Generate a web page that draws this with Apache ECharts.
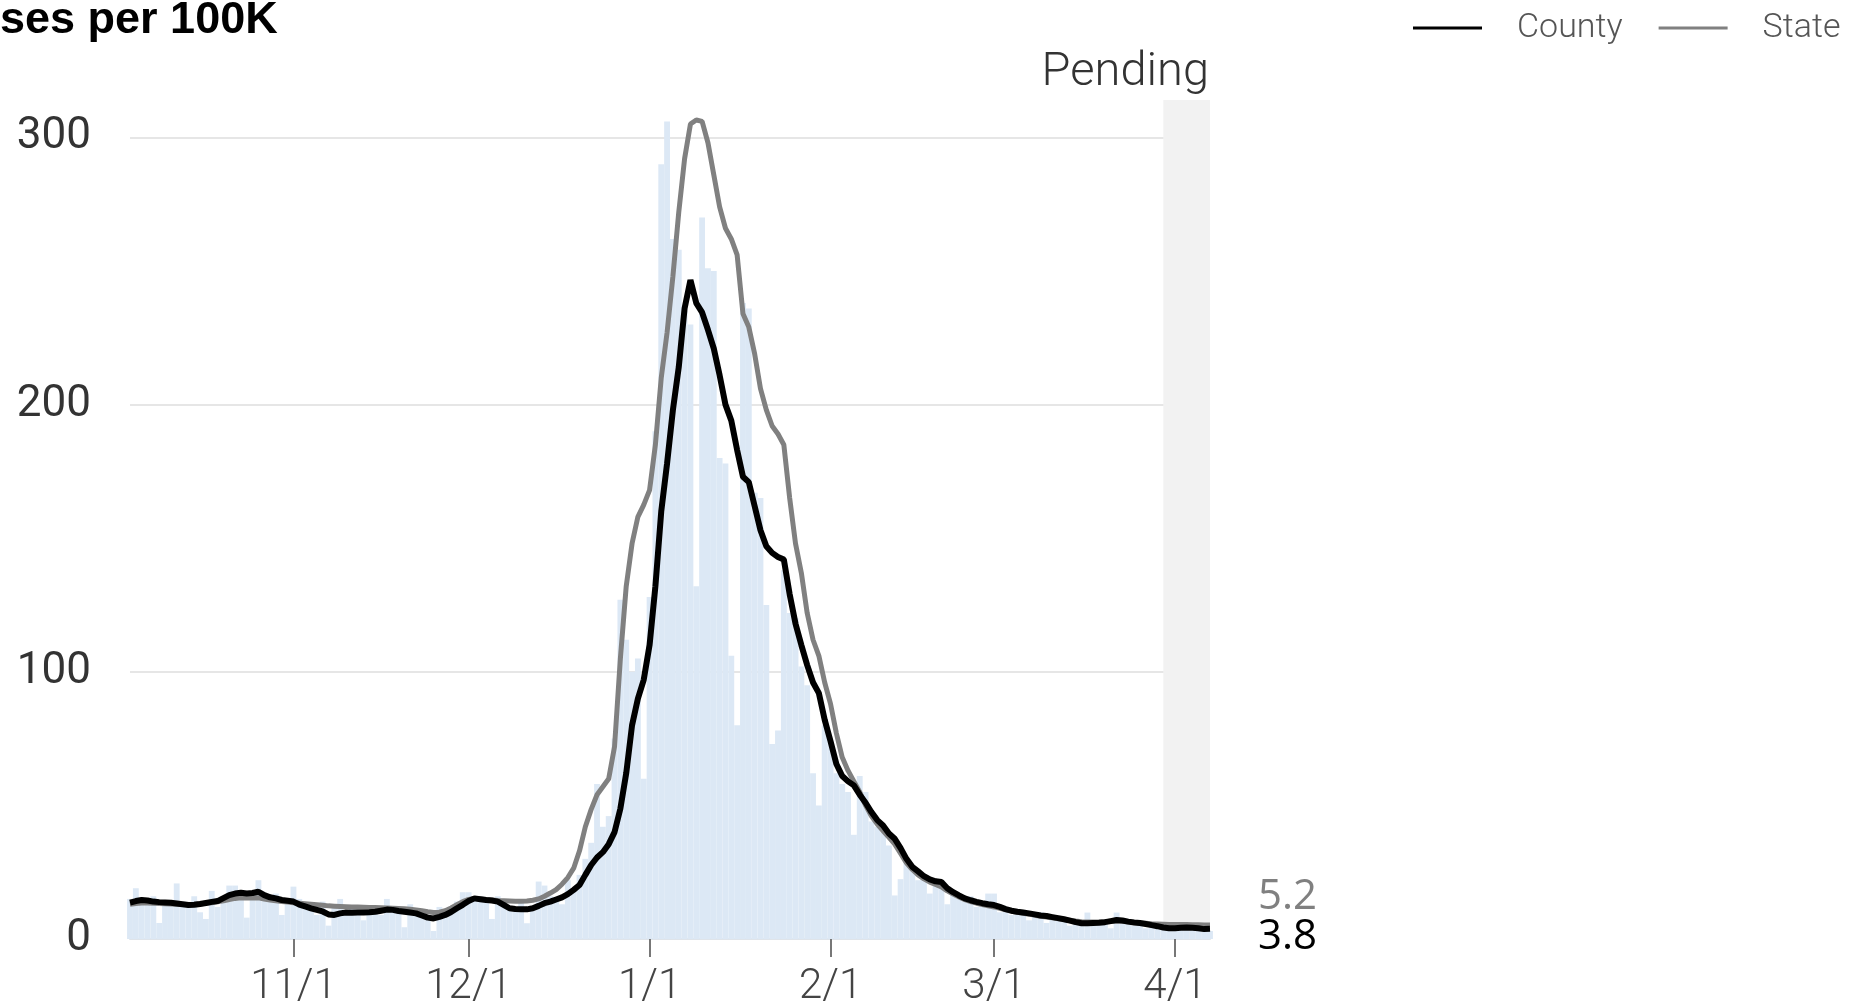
<!DOCTYPE html>
<html>
<head>
<meta charset="utf-8">
<script src="https://cdn.jsdelivr.net/npm/echarts@6/dist/echarts.min.js"></script>
<style>
  html, body { margin: 0; padding: 0; background: #ffffff; }
  #chart { width: 1870px; height: 1006px; }
</style>
</head>
<body>
<div id="chart"></div>
<script>
// ---- data ----
const startDate = '2020-10-04';
const dayCount = 186;
const xTickLabels = ['11/1', '12/1', '1/1', '2/1', '3/1', '4/1'];
const yTickValues = [0, 100, 200, 300];
const pendingRange = ['2021-03-30', '2021-04-07'];

const dailyCases = [
  15,19,14,13,16,6,13,14,20.8,14,
  12,16,10,7.5,18,12,16,20,20,17,
  8,18,22,16,14,17,9,13,19.6,15,
  12,13,9,14,5,12,15,10,12,11,
  7,10,12,9,15,12,10,4.4,13,9,
  11,8,3,12,8,10,14,17.5,17.5,15,
  16,14,7.5,16,13,11,12,14,5.9,12,
  21.5,20,16,15,13,22,18,24,30,36,
  58,42,46,75,127,112,100,105,60,128,
  190,290,306,262,258,235,230,132,270,251,
  250,180,178,106,80,238,236,167,165,125,
  73,78,138,122,120,102,95,62,50,80,
  74,62,58,55,39,61,55,44,42,40,
  35,16.3,22.4,30,27,22,24,17,20,22,
  13,18,15,14,16,12,13,17,17,10,
  12,9,11,10,7,9,10,6,9,8,
  7,5,6,7,9.9,5,6,6,4,9.9,
  7,6,5,6,4,5,5,4,3,5,
  4,4,5,3,4,3
];

const countyAvg = [
  13.6,14.2,14.6,14.4,14.0,13.8,13.7,13.6,13.3,13.0,
  12.7,12.8,13.1,13.5,13.9,14.2,15.3,16.4,17.0,17.3,
  17.0,17.2,17.7,16.4,15.6,15.2,14.6,14.3,14.0,12.9,
  12.2,11.5,10.9,10.3,9.2,9.0,9.6,9.9,9.8,9.9,
  9.9,10.0,10.2,10.6,11.0,10.9,10.5,10.2,9.9,9.6,
  8.8,8.0,7.7,8.3,9.0,10.1,11.5,12.8,14.2,15.2,
  14.9,14.6,14.4,14.0,12.8,11.5,11.2,11.1,11.1,11.5,
  12.4,13.4,14.0,14.8,15.6,16.8,18.4,20.2,24.0,27.7,
  30.5,32.5,35.5,40.0,48.8,62.0,80.0,90.0,97.0,110.0,
  132.0,160.0,178.0,198.0,214.0,236.0,246.6,238.0,234.5,228.0,
  221.0,211.0,200.0,194.0,183.0,173.0,171.0,162.0,153.0,147.0,
  144.5,143.0,142.0,129.0,118.0,110.0,102.5,96.0,92.0,82.0,
  74.0,65.5,61.0,59.0,57.5,54.0,51.0,47.5,44.5,42.5,
  39.5,37.5,34.0,30.0,27.0,25.3,23.5,22.3,21.6,21.3,
  19.0,17.5,16.3,15.2,14.5,13.9,13.4,13.0,12.7,12.0,
  11.2,10.6,10.2,9.9,9.6,9.2,8.8,8.6,8.2,7.8,
  7.4,6.9,6.3,5.9,5.9,6.0,6.1,6.3,6.7,7.1,
  6.9,6.5,6.2,6.0,5.6,5.2,4.8,4.3,4.0,4.0,
  4.2,4.3,4.2,4.0,3.7,3.8
];

const stateAvg = [
  13.0,13.3,13.5,13.5,13.4,13.3,13.2,13.1,13.0,12.9,
  12.9,13.0,13.2,13.4,13.6,13.9,14.3,14.8,15.2,15.4,
  15.3,15.3,15.4,15.0,14.6,14.3,14.0,13.8,13.6,13.4,
  13.2,13.0,12.8,12.6,12.4,12.3,12.2,12.1,12.0,12.0,
  11.9,11.8,11.8,11.7,11.6,11.5,11.4,11.3,11.1,10.9,
  10.6,10.2,9.9,10.0,10.6,11.6,12.8,14.0,14.8,15.2,
  15.0,14.8,14.6,14.4,14.3,14.2,14.1,14.1,14.2,14.5,
  15.0,16.0,17.2,18.5,20.5,23.0,26.5,33.0,42.0,48.5,
  54.0,57.0,60.0,72.0,105.0,132.0,148.0,158.0,162.5,168.0,
  185.0,210.0,227.0,248.0,272.0,292.0,305.0,306.5,306.0,298.0,
  286.0,274.0,266.0,262.0,256.0,234.0,229.0,219.0,206.0,198.0,
  192.0,189.0,185.0,165.0,148.0,137.0,122.0,112.0,106.0,96.0,
  88.0,77.0,68.0,63.0,59.0,55.0,50.0,46.0,43.0,40.5,
  38.0,35.5,32.0,28.5,26.0,24.0,22.5,21.3,20.4,19.5,
  18.0,16.8,15.7,14.7,14.0,13.4,12.9,12.4,12.0,11.5,
  10.9,10.4,10.0,9.6,9.3,8.9,8.5,8.2,7.9,7.6,
  7.3,7.0,6.7,6.5,6.4,6.4,6.4,6.5,6.6,6.7,
  6.6,6.4,6.2,6.0,5.9,5.7,5.6,5.5,5.4,5.4,
  5.4,5.4,5.3,5.3,5.2,5.2
];

// ---- categories (dates) ----
const dates = [];
(function () {
  const p = startDate.split('-').map(Number);
  for (let i = 0; i < dayCount; i++) {
    const d = new Date(Date.UTC(p[0], p[1] - 1, p[2] + i));
    const mm = String(d.getUTCMonth() + 1).padStart(2, '0');
    const dd = String(d.getUTCDate()).padStart(2, '0');
    dates.push(d.getUTCFullYear() + '-' + mm + '-' + dd);
  }
})();

function shortDate(v) {
  const p = v.split('-');
  return (+p[1]) + '/' + (+p[2]);
}
function isTickDate(index, value) {
  return xTickLabels.indexOf(shortDate(value)) >= 0;
}

const pendingStartIdx = dates.indexOf(pendingRange[0]);
const pendingEndIdx = dates.indexOf(pendingRange[1]);

const chart = echarts.init(document.getElementById('chart'), null, { renderer: 'canvas' });

const option = {
  animation: false,
  backgroundColor: '#ffffff',
  grid: {
    left: 130, right: 660, top: 100, bottom: 67,
    containLabel: false,
    outerBoundsMode: 'none'
  },
  legend: {
    left: 1413,
    top: 11,
    padding: 0,
    itemGap: 36,
    itemWidth: 69,
    itemHeight: 3,
    selectedMode: false,
    data: [
      { name: 'County', icon: 'rect' },
      { name: 'State', icon: 'rect' }
    ],
    textStyle: {
      fontFamily: 'Roboto',
      fontSize: 34,
      fontWeight: 300,
      color: '#555555',
      padding: [0, 0, 0, 30]
    }
  },
  graphic: [
    {
      type: 'text', left: 0, top: -2,
      style: { text: 'ses per 100K', font: 'bold 45px "Liberation Sans", Arial, sans-serif', fill: '#000000' }
    },
    {
      type: 'text', right: 661, top: 50,
      style: { text: 'Pending', font: '300 47px Roboto, sans-serif', fill: '#333333', textAlign: 'right' }
    }
  ],
  xAxis: {
    type: 'category',
    data: dates,
    boundaryGap: false,
    axisLine: { show: true, lineStyle: { color: '#dfe4ea', width: 2 } },
    axisTick: {
      show: true, interval: isTickDate, length: 18,
      lineStyle: { color: '#777777', width: 2 }
    },
    axisLabel: {
      show: true, interval: isTickDate, margin: 27,
      formatter: shortDate,
      fontFamily: 'Roboto', fontSize: 42, fontWeight: 300, color: '#444444'
    },
    splitLine: { show: false }
  },
  yAxis: {
    type: 'value',
    min: yTickValues[0],
    max: 314,
    interval: yTickValues[1] - yTickValues[0],
    axisLine: { show: false },
    axisTick: { show: false },
    axisLabel: {
      showMaxLabel: false,
      margin: 39,
      padding: [0, 0, 8, 0],
      fontFamily: 'Roboto', fontSize: 44, color: '#333333',
      formatter: function (v) { return yTickValues.indexOf(v) >= 0 ? String(v) : ''; }
    },
    splitLine: {
      show: true, showMinLine: false, showMaxLine: false,
      lineStyle: { color: '#e6e6e6', width: 2 }
    }
  },
  series: [
    {
      name: 'Pending',
      type: 'line',
      data: [],
      silent: true,
      z: 0,
      markArea: {
        silent: true,
        itemStyle: { color: '#f2f2f2' },
        data: [[{ xAxis: pendingStartIdx }, { xAxis: pendingEndIdx }]]
      }
    },
    {
      name: 'Daily',
      type: 'bar',
      data: dailyCases,
      barCategoryGap: '0%',
      barGap: '0%',
      clip: true,
      itemStyle: { color: '#dce8f5' },
      silent: true,
      z: 1
    },
    {
      name: 'State',
      type: 'line',
      data: stateAvg,
      symbol: 'none',
      showSymbol: false,
      color: '#808080',
      lineStyle: { color: '#808080', width: 5 },
      itemStyle: { color: '#808080' },
      z: 3,
      silent: true,
      endLabel: {
        show: true,
        distance: 48,
        offset: [0, -28],
        formatter: function (p) { return Number(p.value).toFixed(1); },
        fontFamily: '"Open Sans"', fontSize: 42, color: '#808080'
      }
    },
    {
      name: 'County',
      type: 'line',
      data: countyAvg,
      symbol: 'none',
      showSymbol: false,
      color: '#000000',
      lineStyle: { color: '#000000', width: 6 },
      itemStyle: { color: '#000000' },
      z: 4,
      silent: true,
      endLabel: {
        show: true,
        distance: 48,
        offset: [0, 8],
        formatter: function (p) { return Number(p.value).toFixed(1); },
        fontFamily: '"Open Sans"', fontSize: 42, color: '#000000'
      }
    }
  ]
};

chart.setOption(option);
</script>
</body>
</html>
